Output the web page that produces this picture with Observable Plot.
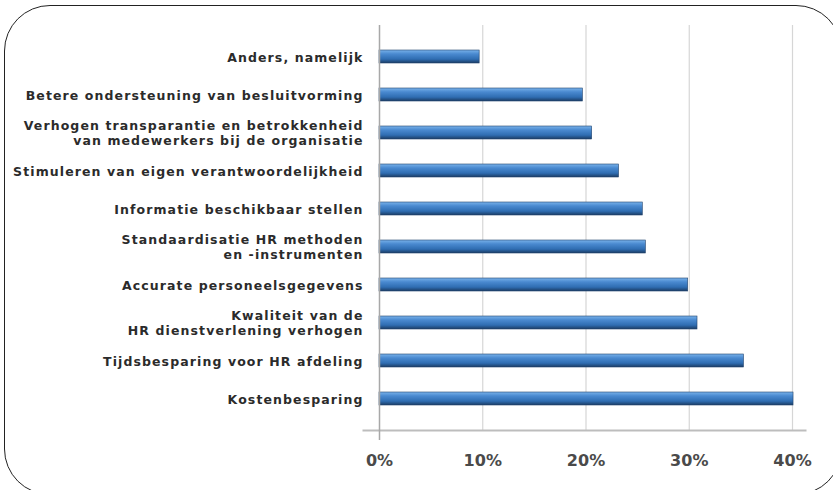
<!DOCTYPE html>
<html>
<head>
<meta charset="utf-8">
<script src="https://cdn.jsdelivr.net/npm/d3@7"></script>
<script src="https://cdn.jsdelivr.net/npm/@observablehq/plot@0.6"></script>
<style>
  html, body { margin: 0; padding: 0; background: #fff; overflow: hidden; width: 833px; height: 490px; }
  #box { position: absolute; left: 4px; top: 5px; width: 838px; height: 490px; border: 1.5px solid #222; border-radius: 46px; box-sizing: border-box; }
  #chart { position: absolute; left: 0; top: 0; }
</style>
</head>
<body>
<div id="box"></div>
<div id="chart"></div>
<script>
const categories = [
  "Anders, namelijk",
  "Betere ondersteuning van besluitvorming",
  "Verhogen transparantie en betrokkenheid\nvan medewerkers bij de organisatie",
  "Stimuleren van eigen verantwoordelijkheid",
  "Informatie beschikbaar stellen",
  "Standaardisatie HR methoden\nen -instrumenten",
  "Accurate personeelsgegevens",
  "Kwaliteit van de\nHR dienstverlening verhogen",
  "Tijdsbesparing voor HR afdeling",
  "Kostenbesparing"
];
const values = [0.097, 0.197, 0.206, 0.232, 0.255, 0.258, 0.299, 0.308, 0.353, 0.401];
const xTicks = [0, 0.1, 0.2, 0.3, 0.4];

const data = categories.map((c, i) => ({category: c, value: values[i]}));

const plot = Plot.plot({
  width: 833,
  height: 490,
  marginLeft: 379,
  marginRight: 41,
  marginTop: 25,
  marginBottom: 60,
  style: {background: "transparent", fontFamily: "DejaVu Sans"},
  x: {domain: [0, 0.4], axis: null, label: null},
  y: {domain: categories, paddingInner: 0.665, paddingOuter: 0.554, axis: null, label: null},
  marks: [
    Plot.ruleX(xTicks.slice(1), {stroke: "#d6d6d6", strokeWidth: 1.2}),
    Plot.frame({anchor: "bottom", stroke: "#bdbdbd", strokeWidth: 2, insetLeft: -16, insetRight: -13}),
    Plot.barX(data, {x: "value", y: "category", fill: "url(#barGrad)", stroke: "#24456e", strokeWidth: 0.6}),
    Plot.ruleX([0], {stroke: "#a8a8a8", strokeWidth: 1.5, insetBottom: -10}),
    Plot.axisY({
      tickSize: 0, tickPadding: 16, fontSize: 12.5, fontWeight: "bold", fill: "#2b2b2b",
      lineHeight: 1.2, label: null
    }),
    Plot.axisX(xTicks, {
      tickSize: 0, tickPadding: 24, fontSize: 16, fontWeight: "bold", fill: "#4a4a4a",
      tickFormat: d3.format(".0%"), anchor: "bottom", label: null
    })
  ]
});

const defs = d3.select(plot).insert("defs", ":first-child");
const grad = defs.append("linearGradient").attr("id", "barGrad").attr("x1", 0).attr("x2", 0).attr("y1", 0).attr("y2", 1);
grad.append("stop").attr("offset", "0%").attr("stop-color", "#79b2ea");
grad.append("stop").attr("offset", "30%").attr("stop-color", "#4a8ad0");
grad.append("stop").attr("offset", "70%").attr("stop-color", "#2f6db2");
grad.append("stop").attr("offset", "100%").attr("stop-color", "#1b3c64");

d3.select(plot).selectAll("g[aria-label='y-axis tick label'] text").style("letter-spacing", "1.1px");

document.getElementById("chart").appendChild(plot);
</script>
</body>
</html>
